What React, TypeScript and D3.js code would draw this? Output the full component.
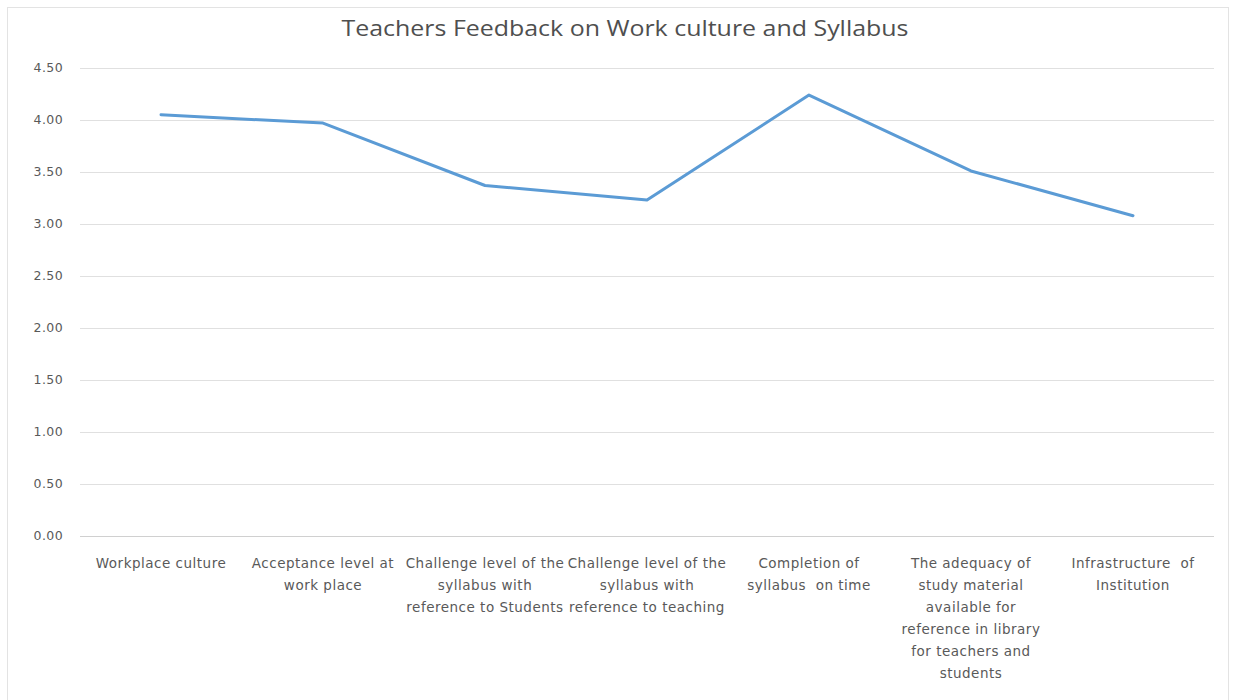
import React, { useEffect, useRef } from "react";
import * as d3 from "d3";

// chart data
const categories = [
  "Workplace culture",
  "Acceptance level at work place",
  "Challenge level of the syllabus with reference to Students",
  "Challenge level of the syllabus with reference to teaching",
  "Completion of syllabus  on time",
  "The adequacy of study material available for reference in library for teachers and students",
  "Infrastructure  of Institution",
];
// wrapped tick labels as they appear under the axis
const categoryLines = [
  ["Workplace culture"],
  ["Acceptance level at", "work place"],
  ["Challenge level of the", "syllabus with", "reference to Students"],
  ["Challenge level of the", "syllabus with", "reference to teaching"],
  ["Completion of", "syllabus  on time"],
  ["The adequacy of", "study material", "available for", "reference in library", "for teachers and", "students"],
  ["Infrastructure  of", "Institution"],
];
const scores = [4.05, 3.97, 3.37, 3.23, 4.24, 3.51, 3.08];
const yTicks = [0, 0.5, 1, 1.5, 2, 2.5, 3, 3.5, 4, 4.5];

const title = "Teachers Feedback on Work culture and Syllabus";

const W = 1236;
const H = 700;
const margin = { top: 68, right: 22, bottom: 164, left: 80 };

const App: React.FC = () => {
  const svgRef = useRef<SVGSVGElement | null>(null);

  useEffect(() => {
    document.body.style.margin = "0";
    const svg = d3.select(svgRef.current);
    svg.selectAll("*").remove();

    const font = "'DejaVu Sans', sans-serif";
    const textColor = "#595959";

    // white background and chart border
    svg.append("rect").attr("width", W).attr("height", H).attr("fill", "#fff");
    svg
      .append("rect")
      .attr("x", 7.5)
      .attr("y", 7.5)
      .attr("width", W - 15)
      .attr("height", H)
      .attr("fill", "none")
      .attr("stroke", "#e3e3e3");

    const x = d3
      .scaleBand<string>()
      .domain(categories)
      .range([margin.left, W - margin.right]);

    const y = d3
      .scaleLinear()
      .domain([0, 4.5])
      .range([H - margin.bottom, margin.top]);

    // title
    svg
      .append("text")
      .attr("x", 625)
      .attr("y", 36)
      .attr("text-anchor", "middle")
      .attr("font-family", "'Open Sans', sans-serif")
      .attr("font-size", 22)
      .attr("fill", "#4f4f4f")
      .attr("textLength", 567)
      .attr("lengthAdjust", "spacingAndGlyphs")
      .text(title);

    // gridlines
    svg
      .append("g")
      .selectAll("line")
      .data(yTicks)
      .join("line")
      .attr("x1", margin.left)
      .attr("x2", W - margin.right)
      .attr("y1", (d) => Math.round(y(d)) + 0.5)
      .attr("y2", (d) => Math.round(y(d)) + 0.5)
      .attr("stroke", (d) => (d === 0 ? "#d0d0d0" : "#e0e0e0"))
      .attr("stroke-width", 1);

    // y tick labels
    svg
      .append("g")
      .selectAll("text")
      .data(yTicks)
      .join("text")
      .attr("x", 63)
      .attr("y", (d) => y(d))
      .attr("dy", "0.35em")
      .attr("text-anchor", "end")
      .attr("font-family", font)
      .attr("font-size", 12.5)
      .attr("letter-spacing", 0.4)
      .attr("fill", textColor)
      .text((d) => d3.format(".2f")(d));

    // x category labels
    const xLabels = svg
      .append("g")
      .selectAll("text")
      .data(categories)
      .join("text")
      .attr("x", (d) => x(d)! + x.bandwidth() / 2)
      .attr("y", H - margin.bottom + 32)
      .attr("text-anchor", "middle")
      .attr("font-family", font)
      .attr("font-size", 13.5)
      .attr("letter-spacing", 0.5)
      .attr("fill", textColor)
      .style("white-space", "pre");

    xLabels
      .selectAll("tspan")
      .data((d, i) => categoryLines[i])
      .join("tspan")
      .attr("x", function () {
        return (this.parentNode as SVGTextElement).getAttribute("x");
      })
      .attr("dy", (d, i) => (i === 0 ? 0 : 22))
      .text((d) => d);

    // the series line
    const line = d3
      .line<number>()
      .x((d, i) => x(categories[i])! + x.bandwidth() / 2)
      .y((d) => y(d));

    svg
      .append("path")
      .datum(scores)
      .attr("d", line)
      .attr("fill", "none")
      .attr("stroke", "#5B9BD5")
      .attr("stroke-width", 3)
      .attr("stroke-linejoin", "round")
      .attr("stroke-linecap", "round");
  }, []);

  return <svg ref={svgRef} width={W} height={H} style={{ display: "block" }} />;
};

export default App;
